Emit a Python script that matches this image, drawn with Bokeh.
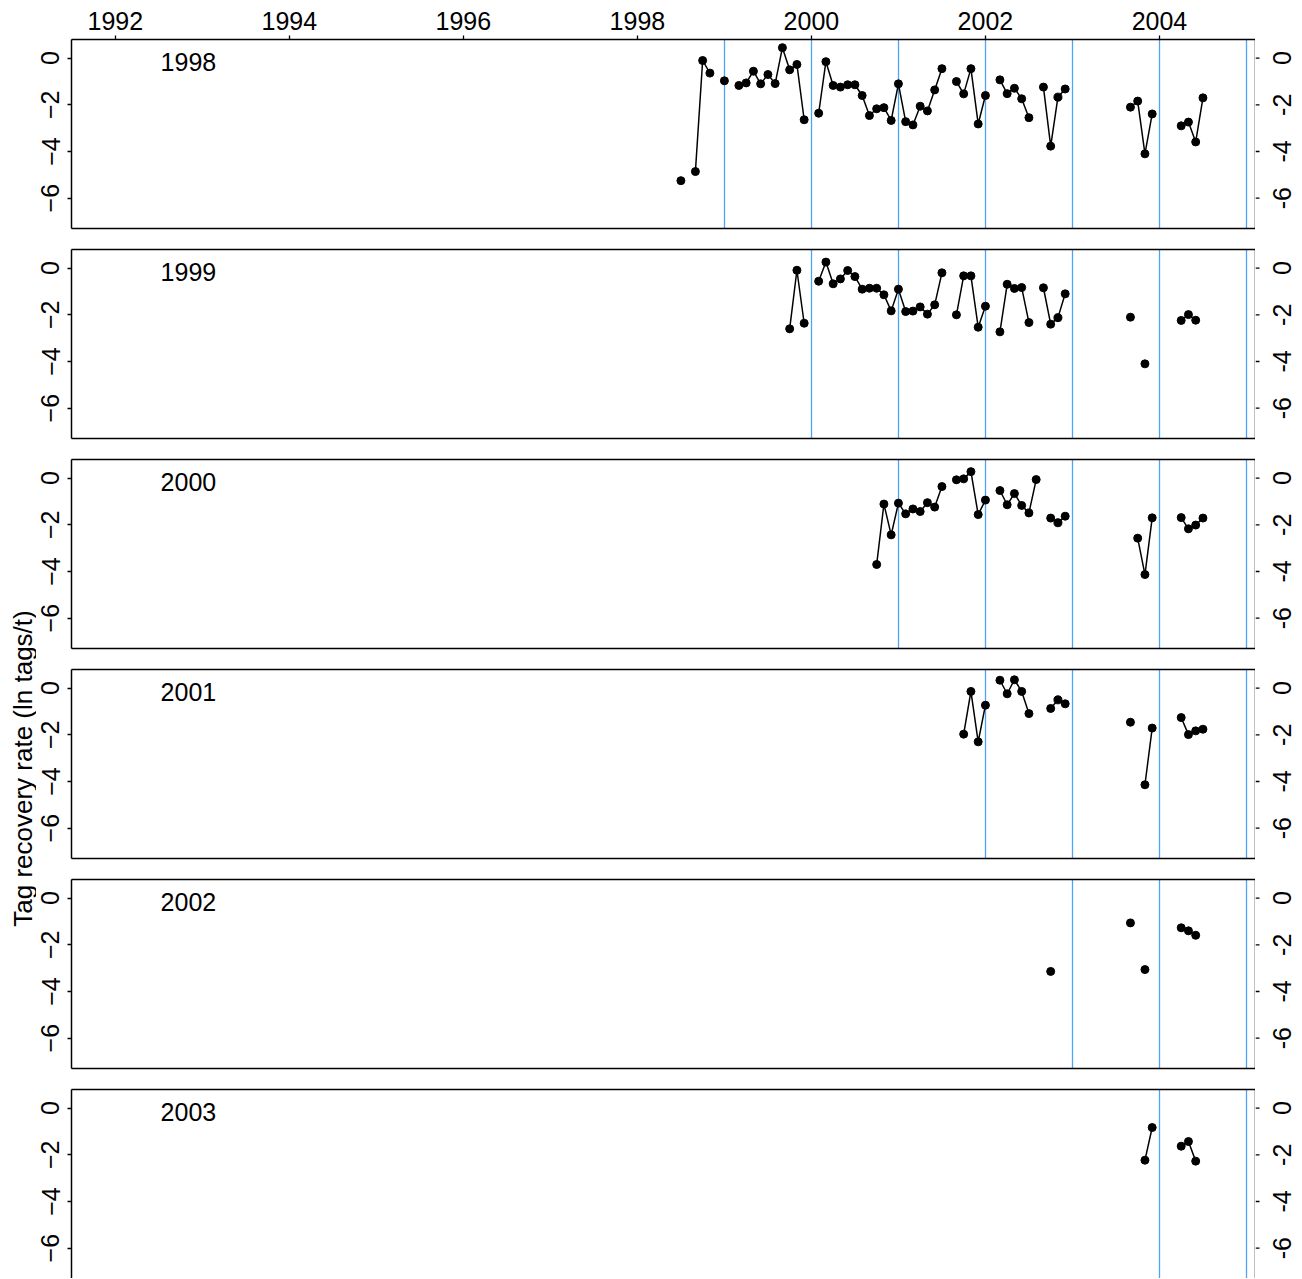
import math
from bokeh.plotting import figure
from bokeh.layouts import column, row
from bokeh.models import Range1d, LinearAxis, FixedTicker
from bokeh.embed import file_html
from bokeh.resources import INLINE
from bokeh.core.properties import value

# ---------------- data ----------------
# month index k counted from January 1998 (time = 1998 + k/12)
release_years = [1998, 1999, 2000, 2001, 2002, 2003]

m1998 = [6, 8, 9, 10, 12, 14, 15, 16, 17, 18, 19, 20, 21, 22, 23,
         25, 26, 27, 28, 29, 30, 31, 32, 33, 34, 35, 36, 37, 38, 39, 40, 41, 42,
         44, 45, 46, 47, 48, 50, 51, 52, 53, 54, 56, 57, 58, 59,
         68, 69, 70, 71, 75, 76, 77, 78]
v1998 = [-5.25, -4.86, -0.10, -0.64, -0.97, -1.17, -1.06, -0.56, -1.10, -0.70, -1.09, 0.45, -0.50, -0.27, -2.64,
         -2.36, -0.15, -1.17, -1.24, -1.14, -1.14, -1.60, -2.46, -2.17, -2.12, -2.67, -1.10, -2.72, -2.86, -2.06, -2.26, -1.36, -0.45,
         -1.00, -1.53, -0.45, -2.82, -1.60, -0.93, -1.52, -1.29, -1.74, -2.55, -1.24, -3.77, -1.67, -1.32,
         -2.10, -1.84, -4.10, -2.39, -2.90, -2.74, -3.59, -1.70]

m1999 = [21, 22, 23,
         25, 26, 27, 28, 29, 30, 31, 32, 33, 34, 35, 36, 37, 38, 39, 40, 41, 42,
         44, 45, 46, 47, 48, 50, 51, 52, 53, 54, 56, 57, 58, 59,
         68, 70, 75, 76, 77]
v1999 = [-2.60, -0.09, -2.36,
         -0.56, 0.26, -0.67, -0.46, -0.10, -0.36, -0.90, -0.86, -0.86, -1.14, -1.83, -0.90, -1.86, -1.84, -1.66, -1.97, -1.57, -0.20,
         -2.00, -0.33, -0.33, -2.53, -1.63, -2.73, -0.69, -0.87, -0.83, -2.33, -0.84, -2.40, -2.12, -1.10,
         -2.10, -4.10, -2.24, -1.99, -2.23]

m2000 = [33, 34, 35, 36, 37, 38, 39, 40, 41, 42,
         44, 45, 46, 47, 48, 50, 51, 52, 53, 54, 55, 57, 58, 59,
         69, 70, 71, 75, 76, 77, 78]
v2000 = [-3.70, -1.11, -2.43, -1.07, -1.53, -1.32, -1.43, -1.05, -1.24, -0.36,
         -0.07, -0.03, 0.28, -1.56, -0.94, -0.53, -1.14, -0.66, -1.17, -1.49, -0.06, -1.71, -1.91, -1.63,
         -2.57, -4.13, -1.70, -1.69, -2.17, -2.01, -1.71]

m2001 = [45, 46, 47, 48, 50, 51, 52, 53, 54, 57, 58, 59, 68, 70, 71, 75, 76, 77, 78]
v2001 = [-1.97, -0.14, -2.30, -0.73, 0.34, -0.24, 0.36, -0.14, -1.09, -0.87, -0.50, -0.67,
         -1.46, -4.14, -1.71, -1.26, -1.99, -1.83, -1.76]

m2002 = [57, 68, 70, 75, 76, 77]
v2002 = [-3.14, -1.06, -3.06, -1.27, -1.40, -1.59]

m2003 = [70, 71, 75, 76, 77]
v2003 = [-2.23, -0.83, -1.63, -1.43, -2.27]

months = [m1998, m1999, m2000, m2001, m2002, m2003]
values = [v1998, v1999, v2000, v2001, v2002, v2003]

x_ticks = [1992, 1994, 1996, 1998, 2000, 2002, 2004]
y_ticks = [0, -2, -4, -6]
y_tick_labels = ["0", "-2", "-4", "-6"]
y_title = "Tag recovery rate (ln tags/t)"

# ---------------- layout constants ----------------
FONT = "Liberation Sans"
FS = "25px"
BLUE = "#4FA3F7"
X0, X1 = 1991.496, 2005.104
Y_TOP, Y_BOT = 0.8, -7.3
TITLE_W = 36
MBL = 35
FRAME_W, FRAME_H = 1184, 189
SIDE_W = 45
TICK_LEN = 4


def style_left_axis(ax):
    ax.ticker = FixedTicker(ticks=y_ticks, minor_ticks=[])
    ax.major_tick_out = TICK_LEN
    ax.major_tick_in = 0
    ax.minor_tick_out = 0
    ax.minor_tick_in = 0
    ax.major_tick_line_color = "black"
    ax.major_tick_line_width = 1.3
    ax.axis_line_color = "black"
    ax.axis_line_width = 1.5
    ax.major_label_text_font = FONT
    ax.major_label_text_color = "black"
    ax.major_label_orientation = "parallel"
    ax.major_label_text_font_size = FS
    ax.major_label_standoff = 8


def plain_line_axis():
    return LinearAxis(ticker=FixedTicker(ticks=[], minor_ticks=[]),
                      major_label_standoff=0,
                      axis_line_width=1.5, axis_line_color="black",
                      major_tick_out=0, major_tick_in=0)


rows = []
n = len(release_years)
heights = []
for i, yr in enumerate(release_years):
    first = i == 0
    last = i == n - 1
    mbt = 39 if first else 10
    mbb = 0 if last else 11
    heights.append(mbt + FRAME_H + mbb)
    p = figure(
        frame_width=FRAME_W, frame_height=FRAME_H,
        x_range=Range1d(X0, X1), y_range=Range1d(Y_BOT, Y_TOP),
        output_backend="svg", toolbar_location=None,
        x_axis_location="above" if first else None,
        y_axis_location="left",
        min_border_left=MBL, min_border_right=0,
        min_border_top=mbt, min_border_bottom=mbb,
        background_fill_color="white", border_fill_color="white",
        outline_line_color=None,
    )
    p.grid.visible = False
    style_left_axis(p.yaxis[0])
    p.add_layout(plain_line_axis(), "right")
    if first:
        xa = p.xaxis[0]
        xa.ticker = FixedTicker(ticks=x_ticks, minor_ticks=[])
        xa.major_tick_out = TICK_LEN
        xa.major_tick_in = 0
        xa.major_tick_line_width = 1.3
        xa.major_tick_line_color = "black"
        xa.major_label_text_font = FONT
        xa.major_label_text_font_size = FS
        xa.major_label_text_color = "black"
        xa.major_label_standoff = 6
        xa.axis_line_color = "black"
        xa.axis_line_width = 1.5
    else:
        p.add_layout(plain_line_axis(), "above")
    if not last:
        p.add_layout(plain_line_axis(), "below")

    # blue year boundaries after the release year
    boundaries = [y for y in range(yr + 1, 2006)]
    p.vspan(x=boundaries, line_color=BLUE, line_width=1.3)

    ks = months[i]
    vs = values[i]
    xs = [1998 + k / 12 for k in ks]
    lx, ly = [], []
    for j, k in enumerate(ks):
        if j > 0 and k - ks[j - 1] > 1:
            lx.append(float("nan"))
            ly.append(float("nan"))
        lx.append(xs[j])
        ly.append(vs[j])
    p.line(lx, ly, line_color="black", line_width=1.5)
    p.scatter(xs, vs, size=8, color="black")

    p.text(x=[1992.52], y=[-0.18], text=[str(yr)], text_font=value(FONT),
           text_font_size=FS, text_align="left", text_baseline="middle",
           text_color="black")

    # right-hand axis: ticks and labels (labels read bottom-to-top, as on the left)
    s = figure(
        frame_width=SIDE_W, frame_height=FRAME_H,
        x_range=Range1d(0, SIDE_W), y_range=Range1d(Y_BOT, Y_TOP),
        output_backend="svg", toolbar_location=None,
        x_axis_location=None, y_axis_location=None,
        min_border_left=0, min_border_right=0,
        min_border_top=mbt, min_border_bottom=mbb,
        outline_line_color=None,
    )
    s.grid.visible = False
    s.segment(x0=[0] * len(y_ticks), y0=y_ticks, x1=[TICK_LEN] * len(y_ticks), y1=y_ticks,
              line_color="black", line_width=1.3)
    s.text(x=[26] * len(y_ticks), y=y_ticks, text=y_tick_labels, angle=math.pi / 2,
           text_font=value(FONT), text_font_size=FS, text_align="center",
           text_baseline="middle", text_color="black")
    rows.append(row(p, s, spacing=0))

total_h = sum(heights)

tf = figure(width=TITLE_W, height=total_h, x_range=Range1d(0, TITLE_W),
            y_range=Range1d(total_h, 0), output_backend="svg",
            toolbar_location=None, x_axis_location=None, y_axis_location=None,
            min_border=0, outline_line_color=None)
tf.grid.visible = False
tf.text(x=[22], y=[768], text=[y_title], angle=math.pi / 2,
        text_font=value(FONT), text_font_size="26px", text_align="center",
        text_baseline="middle", text_color="black")

layout = row(tf, column(*rows, spacing=0), spacing=0)

open("out.html", "w").write(file_html(layout, INLINE))
